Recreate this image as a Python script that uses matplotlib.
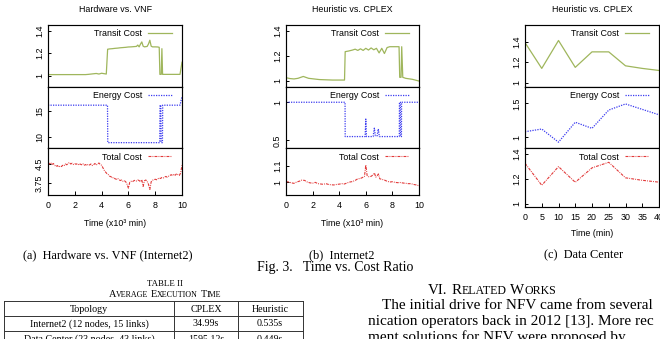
import numpy as np
import matplotlib
matplotlib.use("Agg")
import matplotlib.pyplot as plt
from matplotlib.lines import Line2D

# ---------------- data ----------------
# (a) Hardware vs. VNF (Internet2); time in 10^3 min
a_transit_t = [0, 1, 2, 2.8, 3.0, 3.3, 3.6, 3.8, 4.0, 4.2, 4.35, 4.45, 4.6, 4.8, 5.0, 5.2, 5.4, 5.6,
               5.8, 6.0, 6.2, 6.4, 6.6, 6.7, 6.8, 6.9, 7.0, 7.1, 7.2, 7.4, 7.5, 7.6, 7.7, 7.8, 8.0,
               8.2, 8.3, 8.35, 8.45, 8.5, 8.55, 8.6, 9.0, 9.5, 9.85, 10]
a_transit_v = [1.01, 1.01, 1.01, 1.01, 1.012, 1.016, 1.02, 1.015, 1.022, 1.018, 1.015, 1.235, 1.238,
               1.24, 1.243, 1.245, 1.248, 1.25, 1.252, 1.255, 1.256, 1.258, 1.26, 1.272, 1.256, 1.28,
               1.30, 1.262, 1.256, 1.26, 1.282, 1.315, 1.262, 1.256, 1.256, 1.255, 1.252, 1.012,
               1.012, 1.24, 1.012, 1.012, 1.012, 1.012, 1.012, 1.12]
a_energy_t = [0, 4.44, 4.46, 8.34, 8.36, 8.42, 8.44, 8.54, 8.56, 9.85, 10]
a_energy_v = [16, 16, 9, 9, 16, 16, 9, 9, 16, 16, 17.6]
a_total_t = [i / 10 for i in range(101)]
a_total_v = [4.53, 4.50, 4.56, 4.48, 4.52, 4.45, 4.40, 4.44, 4.38, 4.42, 4.40,
             4.45, 4.43, 4.50, 4.47, 4.52, 4.56, 4.50, 4.53, 4.48, 4.51,
             4.49, 4.52, 4.46, 4.50, 4.47, 4.51, 4.45, 4.48, 4.44, 4.49,
             4.46, 4.50, 4.44, 4.47, 4.52, 4.46, 4.50, 4.54, 4.48, 4.45,
             4.35, 4.25, 4.18, 4.12, 4.08, 4.02, 4.00, 3.95, 3.97, 3.92,
             3.90, 3.93, 3.88, 3.85, 3.87, 3.82, 3.84, 3.80, 3.70, 3.55,
             3.78, 3.82, 3.80, 3.84, 3.86, 3.83, 3.87, 3.85, 3.80, 3.88,
             3.62, 3.84, 3.87, 3.82, 3.70, 3.50, 3.80, 3.86, 3.88, 3.90,
             3.88, 3.92, 3.95, 3.93, 3.97, 3.95, 3.99, 4.01, 3.98, 4.02,
             4.05, 4.08, 4.04, 4.10, 4.06, 4.12, 4.08, 4.05, 4.15, 4.45]

# (b) Heuristic vs. CPLEX (Internet2)
b_transit_t = [0, 0.3, 0.6, 0.9, 1.3, 1.7, 2.1, 2.5, 3.0, 3.5, 4.0, 4.4, 4.45, 4.7, 5.0, 5.2, 5.4, 5.6,
               5.8, 6.0, 6.2, 6.4, 6.6, 6.8, 7.0, 7.2, 7.4, 7.6, 7.8, 8.0, 8.2, 8.5, 8.55, 8.65, 8.7,
               8.78, 9.0, 9.5, 10]
b_transit_v = [1.025, 1.018, 1.015, 1.02, 1.035, 1.02, 1.015, 1.01, 1.008, 1.006, 1.006, 1.006, 1.235,
               1.24, 1.248, 1.255, 1.245, 1.258, 1.245, 1.262, 1.248, 1.265, 1.25, 1.262, 1.225, 1.262,
               1.22, 1.268, 1.275, 1.275, 1.275, 1.275, 1.028, 1.028, 1.275, 1.028, 1.02, 1.012, 0.998]
b_energy_t = [0, 4.44, 4.45, 5.95, 6.0, 6.05, 6.55, 6.64, 6.72, 6.85, 6.94, 7.02, 8.52, 8.53, 8.6,
              8.61, 8.68, 8.69, 10]
b_energy_v = [1, 1, 0.55, 0.55, 0.78, 0.55, 0.55, 0.66, 0.56, 0.56, 0.65, 0.55, 0.55, 1, 1, 0.55,
              0.55, 1, 1]
b_total_t = [0, 0.2, 0.4, 0.6, 0.8, 1.0, 1.2, 1.4, 1.6, 1.8, 2.0, 2.2, 2.4, 2.6, 2.8, 3.0, 3.2, 3.4,
             3.6, 3.8, 4.0, 4.2, 4.4, 4.6, 4.8, 5.0, 5.2, 5.4, 5.6, 5.8, 5.9, 6.0, 6.1, 6.2, 6.4,
             6.55, 6.65, 6.75, 6.85, 6.95, 7.05, 7.2, 7.4, 7.6, 7.8, 8.0, 8.2, 8.4, 8.6, 8.8, 9.0,
             9.2, 9.4, 9.6, 9.8, 10]
b_total_v = [1.003, 1.0, 0.995, 0.992, 1.0, 1.005, 1.012, 1.01, 1.0, 0.995,
             0.993, 0.998, 0.99, 0.988, 0.986, 0.99, 0.985, 0.983, 0.982, 0.985,
             0.987, 0.99, 0.988, 0.995, 1.0, 1.003, 1.01, 1.02, 1.022, 1.03,
             1.035, 1.105, 1.04, 1.033, 1.035, 1.045, 1.056, 1.03, 1.038, 1.05, 1.02,
             1.017, 1.012, 1.005, 1.0, 1.002, 0.998, 0.996, 0.997, 0.994, 0.992,
             0.99, 0.99, 0.985, 0.982, 0.977]

# (c) Heuristic vs. CPLEX (Data Center); time in min
c_t = [0, 5, 10, 15, 20, 25, 30, 35, 40]
c_transit_v = [1.39, 1.14, 1.41, 1.15, 1.30, 1.30, 1.165, 1.14, 1.12]
c_energy_v = [1.08, 1.12, 0.926, 1.22, 1.13, 1.40, 1.49, 1.41, 1.33]
c_total_v = [1.327, 1.15, 1.30, 1.174, 1.29, 1.335, 1.21, 1.19, 1.175]

titles = ["Hardware vs. VNF", "Heuristic vs. CPLEX", "Heuristic vs. CPLEX"]
xlabels = ["Time (x10\u00b3 min)", "Time (x10\u00b3 min)", "Time (min)"]
captions = ["(a)  Hardware vs. VNF (Internet2)", "(b)  Internet2", "(c)  Data Center"]
series_names = ["Transit Cost", "Energy Cost", "Total Cost"]
fig_caption = "Fig. 3.   Time vs. Cost Ratio"

table_header = ["Topology", "CPLEX", "Heuristic"]
table_rows = [["Internet2 (12 nodes, 15 links)", "34.99s", "0.535s"],
              ["Data Center (23 nodes, 43 links)", "1595.12s", "0.449s"]]

body_lines = ["The initial drive for NFV came from several",
              "nication operators back in 2012 [13]. More rec",
              "ment solutions for NFV were proposed by"]

# ---------------- figure ----------------
W, H = 660, 339
fig = plt.figure(figsize=(W / 100, H / 100), dpi=100)
fig.patch.set_facecolor("white")
SANS = "Liberation Sans"
SERIF = "Liberation Serif"
plt.rcParams["font.family"] = SANS
FS = 6.4

C_TR = "#9fb65c"
C_EN = "#3b3bf0"
C_TO = "#e23a3a"
STY = {"Transit Cost": dict(color=C_TR, lw=0.9, ls="-"),
       "Energy Cost": dict(color=C_EN, lw=0.9, ls=(0, (1.0, 1.0))),
       "Total Cost": dict(color=C_TO, lw=0.8, ls=(0, (2.6, 1.0, 0.8, 1.0)))}


def fx(x):
    return x / W


def fy(y):
    return 1 - y / H


def add_ax(left, right, top, bottom):
    ax = fig.add_axes([fx(left), fy(bottom), (right - left) / W, (bottom - top) / H])
    for s in ax.spines.values():
        s.set_linewidth(0.85)
        s.set_color("black")
    ax.tick_params(axis="y", direction="in", length=2.3, width=0.7, pad=2.9,
                   labelsize=FS, left=True, right=False)
    return ax


def style_yticks(ax, ticks, labels):
    ax.set_yticks(ticks)
    ax.set_yticklabels(labels)
    for lab in ax.get_yticklabels():
        lab.set_rotation(90)
        lab.set_va("center")
        lab.set_ha("right")


def legend(ax, right, top):
    ax.legend(loc="upper right", bbox_to_anchor=(fx(right - 10), fy(top + 4.5)),
              bbox_transform=fig.transFigure, frameon=False, markerfirst=False,
              handlelength=2.75, handletextpad=0.6, borderpad=0, borderaxespad=0,
              fontsize=FS)


panels = [
    dict(left=48, right=182, bottom=195, xlim=(0, 10), xticks=[0, 2, 4, 6, 8, 10],
         data=[(a_transit_t, a_transit_v), (a_energy_t, a_energy_v), (a_total_t, a_total_v)],
         ylims=[(0.9, 1.45), (8.0, 19.4), (3.28, 5.13)],
         yticks=[([1, 1.2, 1.4], ["1", "1.2", "1.4"]), ([10, 15], ["10", "15"]),
                 ([3.75, 4.5], ["3.75", "4.5"])]),
    dict(left=286, right=419, bottom=195, xlim=(0, 10), xticks=[0, 2, 4, 6, 8, 10],
         data=[(b_transit_t, b_transit_v), (b_energy_t, b_energy_v), (b_total_t, b_total_v)],
         ylims=[(0.95, 1.45), (0.4, 1.2), (0.92, 1.21)],
         yticks=[([1, 1.2, 1.4], ["1", "1.2", "1.4"]), ([0.5, 1], ["0.5", "1"]),
                 ([1, 1.1], ["1", "1.1"])]),
    dict(left=525, right=659, bottom=207, xlim=(0, 40), xticks=[0, 5, 10, 15, 20, 25, 30, 35, 40],
         data=[(c_t, c_transit_v), (c_t, c_energy_v), (c_t, c_total_v)],
         ylims=[(0.96, 1.56), (0.84, 1.74), (0.975, 1.45)],
         yticks=[([1, 1.2, 1.4], ["1", "1.2", "1.4"]), ([1, 1.5], ["1", "1.5"]),
                 ([1, 1.2, 1.4], ["1", "1.2", "1.4"])]),
]

tops = [25, 87, 148]
for i, p in enumerate(panels):
    bots = [87, 148, p["bottom"]]
    for j in range(3):
        ax = add_ax(p["left"], p["right"], tops[j], bots[j])
        t, v = p["data"][j]
        name = series_names[j]
        ax.plot(t, v, label=name, **STY[name])
        ax.set_xlim(*p["xlim"])
        ax.set_ylim(*p["ylims"][j])
        style_yticks(ax, *p["yticks"][j])
        if j < 2:
            ax.set_xticks([])
        else:
            ax.set_xticks(p["xticks"])
            ax.set_xticklabels([str(x) for x in p["xticks"]])
            ax.tick_params(axis="x", direction="in", length=3.1, width=0.7, pad=4.3,
                           labelsize=FS, top=False, bottom=True)
        legend(ax, p["right"], tops[j])
    cx = (p["left"] + p["right"]) / 2
    fig.text(fx(cx), fy(9.5), titles[i], fontsize=FS, ha="center", va="center", family=SANS)
    xl_y = 224 if i < 2 else 233
    fig.text(fx(cx), fy(xl_y), xlabels[i], fontsize=FS, ha="center", va="center", family=SANS)

# sub-captions
cap_x = [108, 342, 584]
for i in range(3):
    fig.text(fx(cap_x[i]), fy(258), captions[i], fontsize=8.9, ha="center", va="baseline",
             family=SERIF)

renderer = fig.canvas.get_renderer()


def seq_text(x, y, pieces, ha="center", family=SERIF):
    objs = []
    total = 0.0
    for s, size, gap in pieces:
        tt = fig.text(0, 0, s, fontsize=size, family=family, ha="left", va="baseline")
        w = tt.get_window_extent(renderer).width
        objs.append((tt, w, gap))
        total += w + gap
    total -= objs[-1][2]
    cur = x - total / 2 if ha == "center" else x
    for tt, w, gap in objs:
        tt.set_position((fx(cur), fy(y)))
        cur += w + gap


# Figure caption
fig.text(fx(335), fy(271), fig_caption, fontsize=10.0, ha="center", va="baseline", family=SERIF)

# Table caption
fig.text(fx(165), fy(285.5), "TABLE II", fontsize=6.4, ha="center", va="baseline", family=SERIF)
big, small = 7.4, 5.8
seq_text(165, 297, [("A", big, 0), ("VERAGE", small, 2.5), ("E", big, 0), ("XECUTION", small, 2.5),
                    ("T", big, 0), ("IME", small, 0)])

# Table
x_cols = [4, 174, 237.7, 302.7]
y_lines = [301, 316, 331, 346]
lc = "#333333"
for yl in y_lines:
    fig.add_artist(Line2D([fx(x_cols[0]), fx(x_cols[-1])], [fy(yl), fy(yl)],
                          transform=fig.transFigure, color=lc, lw=0.7))
for xc in x_cols:
    fig.add_artist(Line2D([fx(xc), fx(xc)], [fy(y_lines[0]), fy(y_lines[-1])],
                          transform=fig.transFigure, color=lc, lw=0.7))
col_c = [89, 206, 270]
TFS = 7.2
for k, s in enumerate(table_header):
    fig.text(fx(col_c[k]), fy(311.5), s, fontsize=TFS, ha="center", va="baseline", family=SERIF)
for r, row in enumerate(table_rows):
    for k, s in enumerate(row):
        fig.text(fx(col_c[k]), fy(326.5 + 15 * r), s, fontsize=TFS, ha="center", va="baseline",
                 family=SERIF)

# Section heading
hb, hs = 10.8, 8.6
seq_text(492, 294, [("VI.", hb, 4), ("R", hb, 0), ("ELATED", hs, 4), ("W", hb, 0),
                    ("ORKS", hs, 0)])

# Body text
body_x = [382, 368, 368]
body_y = [309, 325, 341]
for s, bx, by in zip(body_lines, body_x, body_y):
    fig.text(fx(bx), fy(by), s, fontsize=11.0, ha="left", va="baseline", family=SERIF)

fig.savefig("out.png", dpi=100, facecolor="white")
